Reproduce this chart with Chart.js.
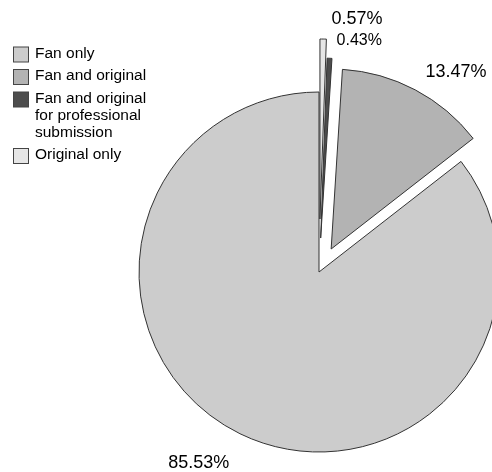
<!DOCTYPE html>
<html>
<head>
<meta charset="utf-8">
<script src="https://cdn.jsdelivr.net/npm/chart.js@4/dist/chart.umd.min.js"></script>
<style>
  html, body { margin: 0; padding: 0; background: #fff; overflow: hidden; }
  canvas { display: block; }
</style>
</head>
<body>
<canvas id="chart" width="492" height="472"></canvas>
<script>
// legend order
const categories = ["Fan only", "Fan and original", "Fan and original for professional submission", "Original only"];
const legendLines = [["Fan only"], ["Fan and original"], ["Fan and original", "for professional", "submission"], ["Original only"]];
const shares = [85.53, 13.47, 0.43, 0.57];
const shareLabels = ["85.53%", "13.47%", "0.43%", "0.57%"];
const colors = ["#cccccc", "#b3b3b3", "#4d4d4d", "#e6e6e6"];
const explode = [0, 26, 34, 53];

const FONT = '"Liberation Sans", Arial, sans-serif';

// slices run counter-clockwise from the top in the original, so feed them reversed
const rev = (a) => a.slice().reverse();
const sliceText = rev(shareLabels);
const labelSize = [18, 16, 18, 18];
const labelNudge = [[8, 0], [6, 2], [1, 0], [-2, 11]];

// Chart.js "offset" also widens the radius and narrows the wedge, which eats the
// thin slices, so push the exploded wedges out ourselves
const baseArcDraw = Chart.ArcElement.prototype.draw;
Chart.ArcElement.prototype.draw = function (ctx) {
    const c = this.$context;
    const push = c && c.dataset.explode ? (c.dataset.explode[c.dataIndex] || 0) : 0;
    const mid = (this.startAngle + this.endAngle) / 2;
    ctx.save();
    ctx.translate(Math.cos(mid) * push, Math.sin(mid) * push);
    baseArcDraw.call(this, ctx);
    ctx.restore();
};

const legendBoxes = {
    id: 'legendBoxes',
    afterDraw(chart) {
        const ctx = chart.ctx;
        ctx.save();
        ctx.font = '15.5px ' + FONT;
        ctx.textBaseline = 'middle';
        ctx.textAlign = 'left';
        let y = 53.5;
        legendLines.forEach((lines, i) => {
            ctx.fillStyle = colors[i];
            ctx.fillRect(13.5, y - 6.5, 15, 15);
            ctx.strokeStyle = '#444';
            ctx.lineWidth = 1;
            ctx.strokeRect(13.5, y - 6.5, 15, 15);
            ctx.fillStyle = '#000';
            lines.forEach((line, j) => ctx.fillText(line, 35, y + j * 17));
            y += lines.length * 17 + 5.5;
        });
        ctx.restore();
    }
};

const sliceLabels = {
    id: 'sliceLabels',
    afterDatasetsDraw(chart) {
        const ctx = chart.ctx;
        const meta = chart.getDatasetMeta(0);
        const pushes = chart.data.datasets[0].explode;
        ctx.save();
        ctx.fillStyle = '#000';
        ctx.textBaseline = 'middle';
        meta.data.forEach((arc, i) => {
            const p = arc.getProps(['x', 'y', 'startAngle', 'endAngle', 'outerRadius'], true);
            const mid = (p.startAngle + p.endAngle) / 2;
            const dist = p.outerRadius + pushes[i] + 20;
            const dx = Math.cos(mid), dy = Math.sin(mid);
            ctx.font = labelSize[i] + 'px ' + FONT;
            ctx.textAlign = dx >= 0 ? 'left' : 'right';
            ctx.fillText(sliceText[i], p.x + dx * dist + labelNudge[i][0], p.y + dy * dist + labelNudge[i][1]);
        });
        ctx.restore();
    }
};

new Chart(document.getElementById('chart'), {
    type: 'pie',
    data: {
        labels: rev(categories),
        datasets: [{
            data: rev(shares),
            backgroundColor: rev(colors),
            borderColor: '#333',
            borderWidth: 1,
            explode: rev(explode),
            clip: false
        }]
    },
    options: {
        responsive: false,
        devicePixelRatio: 1,
        animation: false,
        radius: 180,
        layout: { padding: { left: 146, right: 0, top: 72, bottom: 0 } },
        plugins: {
            legend: { display: false },
            tooltip: { enabled: false }
        }
    },
    plugins: [sliceLabels, legendBoxes]
});
</script>
</body>
</html>
